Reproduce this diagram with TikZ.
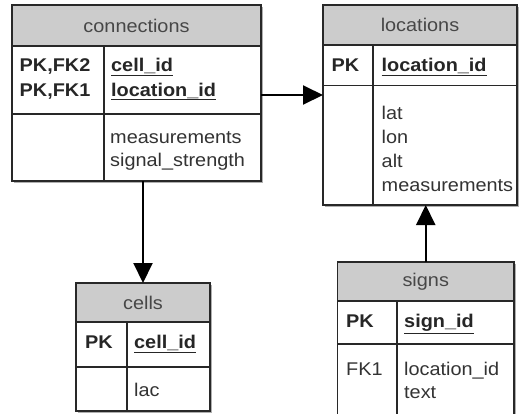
\documentclass[tikz,border=0pt]{standalone}
\usepackage{fontspec}
\setmainfont{Liberation Sans}[FakeStretch=1.08]
\usetikzlibrary{arrows.meta}
\definecolor{hdrfill}{RGB}{204,204,204}
\definecolor{txt}{RGB}{51,51,51}
\definecolor{edge}{RGB}{40,40,40}
\definecolor{shade}{RGB}{175,175,175}
\newcommand{\keyname}[1]{\underline{#1}}
\begin{document}
\begin{tikzpicture}[x=1pt,y=-1pt,
  font=\fontsize{18.4}{24}\selectfont,
  tbl/.style={draw=edge, line width=1.3pt, fill=white, anchor=north west, inner sep=0pt, outer sep=0pt},
  hdr/.style={draw=edge, line width=1.3pt, fill=hdrfill, anchor=north west, inner sep=0pt, outer sep=0pt, text=txt!90!white},
  sep/.style={draw=edge, line width=1.3pt},
  key/.style={anchor=base west, inner sep=0pt, font=\fontsize{18.4}{24}\selectfont\bfseries, text=black!85},
  fld/.style={anchor=base west, inner sep=0pt, text=txt},
  link/.style={draw=black, line width=2pt, -{Triangle[length=20pt,width=19pt]}},
  shadow/.style={fill=shade}
]
\useasboundingbox (0,0) rectangle (520,413);
\clip (0,0) rectangle (520,413);

% ---- connections ----
\fill[shadow] (14,7) rectangle (263,183);
\node[tbl, minimum width=249pt, minimum height=176pt] (conn) at (12,5) {};
\node[hdr, minimum width=249pt, minimum height=41pt] (connhead) at (12,5) {connections};
\draw[sep] (12,114) -- (261,114);
\draw[sep] (104,46) -- (104,181);
\node[key] (connk1) at (19.5,71.5) {PK,FK2};
\node[key] (connk2) at (19.5,96) {PK,FK1};
\node[key] (connf1) at (111,71.5) {\keyname{cell\_id}};
\node[key] (connf2) at (111,96) {\keyname{location\_id}};
\node[fld] (conna1) at (110,143.3) {measurements};
\node[fld] (conna2) at (110,166) {signal\_strength};

% ---- locations ----
\fill[shadow] (325,7) rectangle (519,207);
\node[tbl, minimum width=194pt, minimum height=200pt] (loc) at (323,5) {};
\node[hdr, minimum width=194pt, minimum height=40pt] (lochead) at (323,5) {locations};
\draw[sep] (323,85.5) -- (517,85.5);
\draw[sep] (373,45) -- (373,205);
\node[key] (lock1) at (331.5,71.7) {PK};
\node[key] (locf1) at (381.5,71.7) {\keyname{location\_id}};
\node[fld] (loca1) at (381.5,119.3) {lat};
\node[fld] (loca2) at (381.5,143.3) {lon};
\node[fld] (loca3) at (381.5,167.5) {alt};
\node[fld] (loca4) at (381.5,191.7) {measurements};

% ---- cells ----
\fill[shadow] (78,285) rectangle (212,413);
\node[tbl, minimum width=134pt, minimum height=128pt] (cells) at (76,283) {};
\node[hdr, minimum width=134pt, minimum height=39pt] (cellshead) at (76,283) {cells};
\draw[sep] (76,367) -- (210,367);
\draw[sep] (127,322) -- (127,411);
\node[key] (cellsk1) at (85,348.3) {PK};
\node[key] (cellsf1) at (134,348.3) {\keyname{cell\_id}};
\node[fld] (cellsa1) at (134,396.7) {lac};

% ---- signs ----
\fill[shadow] (339.5,264) rectangle (516,432);
\node[tbl, minimum width=176.5pt, minimum height=168pt] (signs) at (337.5,262) {};
\node[hdr, minimum width=176.5pt, minimum height=39pt] (signshead) at (337.5,262) {signs};
\draw[sep] (337.5,344) -- (514,344);
\draw[sep] (397,301) -- (397,430);
\node[key] (signsk1) at (346,327.7) {PK};
\node[key] (signsf1) at (404,327.7) {\keyname{sign\_id}};
\node[fld] (signsk2) at (346,375) {FK1};
\node[fld] (signsa1) at (404,375) {location\_id};
\node[fld] (signsa2) at (404,398.3) {text};

% ---- relationships ----
\coordinate (lvl) at (0,95);
\draw[link] (conn.east |- lvl) -- (loc.west |- lvl);
\draw[link] (cells.north |- conn.south) -- (cells.north);
\draw[link] (signs.north) -- (loc.south -| signs.north);
\end{tikzpicture}
\end{document}
